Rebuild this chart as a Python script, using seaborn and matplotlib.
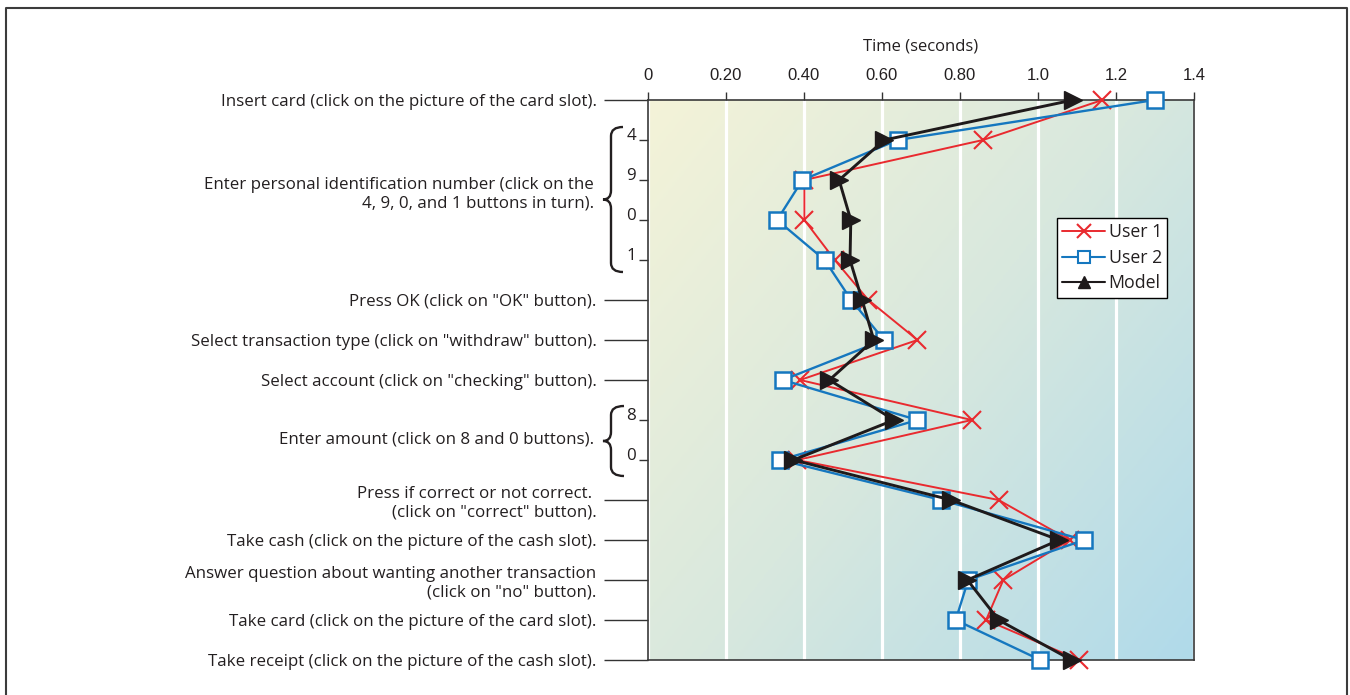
import numpy as np
import pandas as pd
import matplotlib
matplotlib.use("Agg")
import matplotlib.pyplot as plt
import seaborn as sns
from matplotlib.lines import Line2D
from matplotlib.path import Path
from matplotlib.patches import PathPatch
from matplotlib.colors import LinearSegmentedColormap
import matplotlib.transforms as mtransforms

# ---------------- data ----------------
steps = [
    "Insert card (click on the picture of the card slot).",
    "4", "9", "0", "1",
    'Press OK (click on "OK" button).',
    'Select transaction type (click on "withdraw" button).',
    'Select account (click on "checking" button).',
    "8", "0",
    'Press if correct or not correct. \n(click on "correct" button).',
    "Take cash (click on the picture of the cash slot).",
    'Answer question about wanting another transaction\n(click on "no" button).',
    "Take card (click on the picture of the card slot).",
    "Take receipt (click on the picture of the cash slot).",
]
is_sub = [False, True, True, True, True, False, False, False, True, True,
          False, False, False, False, False]
group_labels = [
    "Enter personal identification number (click on the\n4, 9, 0, and 1 buttons in turn).",
    "Enter amount (click on 8 and 0 buttons).",
]
group_rows = [(1, 4), (8, 9)]

user1 = [1.165, 0.859, 0.401, 0.401, 0.479, 0.565, 0.691, 0.390, 0.830, 0.383,
         0.899, 1.081, 0.911, 0.867, 1.106]
user2 = [1.299, 0.640, 0.396, 0.331, 0.453, 0.521, 0.605, 0.346, 0.691, 0.339,
         0.752, 1.118, 0.821, 0.789, 1.006]
model = [1.090, 0.606, 0.490, 0.520, 0.518, 0.549, 0.579, 0.465, 0.631, 0.373,
         0.777, 1.054, 0.819, 0.899, 1.086]
series_names = ["User 1", "User 2", "Model"]

x_ticks = [0, 0.2, 0.4, 0.6, 0.8, 1.0, 1.2, 1.4]
x_ticklabels = ["0", "0.20", "0.40", "0.60", "0.80", "1.0", "1.2", "1.4"]
x_title = "Time (seconds)"

# ---------------- style ----------------
sns.set_style("white")
plt.rcParams["font.family"] = ["Open Sans", "DejaVu Sans"]
TXT = "#231f20"
LFS = 12.2

W, H = 1350, 695
fig = plt.figure(figsize=(W / 100, H / 100), dpi=100)
ax = fig.add_axes([648 / W, 1 - 660 / H, (1194 - 648) / W, (660 - 100) / H])

pix = mtransforms.Affine2D().scale(1 / W, -1 / H).translate(0, 1) + fig.transFigure

# gradient background
grad_cmap = LinearSegmentedColormap.from_list("bg", ["#f4f3d8", "#d8e8de", "#b0daea"])
xx, yy = np.meshgrid(np.linspace(0, 1, 300), np.linspace(0, 1, 300))
ax.imshow(0.55 * xx + 0.45 * yy, cmap=grad_cmap, extent=[0, 1, 0, 1],
          transform=ax.transAxes, origin="upper", aspect="auto", zorder=0)

rows = list(range(len(steps)))
df = pd.DataFrame({
    "row": rows * 3,
    "time": user1 + user2 + model,
    "series": sum([[s] * len(rows) for s in series_names], []),
})

RED, BLUE, BLACK = "#e92a2f", "#1577bf", "#1e1a1b"
styles = {
    "User 1": dict(color=RED, marker="x", markersize=13, markeredgewidth=1.5,
                   markeredgecolor=RED, linewidth=1.4, zorder=3),
    "User 2": dict(color=BLUE, marker="s", markersize=12, markerfacecolor="white",
                   markeredgecolor=BLUE, markeredgewidth=1.8, linewidth=1.7, zorder=4),
    "Model": dict(color=BLACK, marker=">", markersize=13, markeredgecolor=BLACK,
                  markerfacecolor=BLACK, markeredgewidth=1.0, linewidth=2.1, zorder=5),
}
for s in series_names:
    sns.lineplot(data=df[df.series == s], x="time", y="row", sort=False, orient="y",
                 estimator=None, ax=ax, clip_on=False, **styles[s])

ax.set_xlim(0, 1.4)
ax.set_ylim(len(steps) - 1, 0)

# grid
ax.set_xticks(x_ticks, x_ticklabels)
ax.grid(axis="x", color="white", linewidth=2.3)
ax.grid(axis="y", visible=False)

ax.xaxis.tick_top()
ax.xaxis.set_label_position("top")
ax.set_xlabel(x_title, fontsize=12, color=TXT, labelpad=13)
ax.tick_params(axis="x", which="major", direction="out", length=6, width=1,
               color="#333333", pad=6, labelsize=12, labelcolor=TXT)
for lbl in ax.get_xticklabels():
    lbl.set_fontfamily(["Liberation Sans", "DejaVu Sans"])

main_pos = [r for r in rows if not is_sub[r]]
sub_pos = [r for r in rows if is_sub[r]]
ax.set_yticks(main_pos, [steps[r] for r in main_pos])
ax.set_yticks(sub_pos, [steps[r] for r in sub_pos], minor=True)
ax.tick_params(axis="y", which="major", direction="out", length=32, width=1,
               color="#333333", pad=5, labelsize=LFS, labelcolor=TXT, left=True)
ax.tick_params(axis="y", which="minor", direction="out", length=6.5, width=1,
               color="#333333", pad=2, labelsize=LFS, labelcolor=TXT, left=True)
for lbl in ax.get_yticklabels(minor=True):
    lbl.set_va("baseline")
ax.set_ylabel("")

for sp in ax.spines.values():
    sp.set_visible(True)
    sp.set_color("#3a3a3a")
    sp.set_linewidth(1.2)

# group labels and braces
for text, (r0, r1), yc in zip(group_labels, group_rows, [2.35, 8.5]):
    ax.annotate(text, xy=(0, yc), xycoords=ax.get_yaxis_transform(),
                xytext=(-54, 0), textcoords="offset pixels", ha="right", va="center",
                fontsize=LFS, color=TXT)


def brace(x_right, x_stem, x_tip, y_top, y_bot, r=9):
    ym = (y_top + y_bot) / 2
    verts = [(x_right, y_top), (x_stem, y_top), (x_stem, y_top + r),
             (x_stem, ym - r), (x_stem, ym), (x_tip, ym),
             (x_stem, ym), (x_stem, ym + r),
             (x_stem, y_bot - r), (x_stem, y_bot), (x_right, y_bot)]
    codes = [Path.MOVETO, Path.CURVE3, Path.CURVE3,
             Path.LINETO, Path.CURVE3, Path.CURVE3,
             Path.CURVE3, Path.CURVE3,
             Path.LINETO, Path.CURVE3, Path.CURVE3]
    fig.add_artist(PathPatch(Path(verts, codes), transform=pix, fill=False,
                             edgecolor=TXT, linewidth=1.7))


brace(623, 611, 603, 127, 272)
brace(624, 611, 603, 406, 476)

# legend
handles = [
    Line2D([], [], color=RED, marker="x", markersize=10, markeredgewidth=1.5, linewidth=1.4),
    Line2D([], [], color=BLUE, marker="s", markersize=9, markerfacecolor="white",
           markeredgewidth=1.5, linewidth=1.5),
    Line2D([], [], color=BLACK, marker="^", markersize=9, linewidth=1.5),
]
leg = fig.legend(handles, series_names, loc="upper left",
                 bbox_to_anchor=(1057 / W, 1 - 218 / H), frameon=True, fancybox=False,
                 edgecolor="black", framealpha=1, fontsize=12.8, handlelength=2.4,
                 handletextpad=0.2, borderpad=0.3, labelspacing=0.42, borderaxespad=0)
leg.get_frame().set_linewidth(1.0)
for t in leg.get_texts():
    t.set_color(TXT)

# figure frame
fig.add_artist(Line2D([6, 6, 1347, 1347], [705, 8, 8, 705], transform=pix,
                      color="#3c3c3c", linewidth=1.5))

fig.savefig("out.png", dpi=100)
